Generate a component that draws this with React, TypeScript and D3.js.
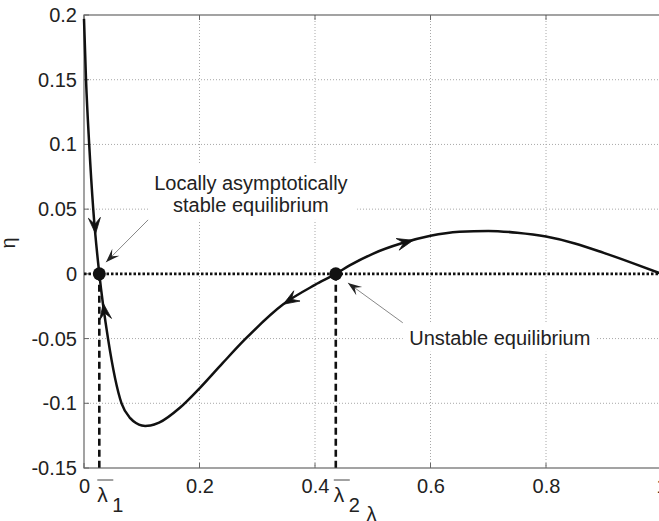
import React from "react";
import * as d3 from "d3";

// Curve data (λ, η)
const lambda = [0, 0.0035, 0.009, 0.016, 0.0265, 0.0416, 0.065, 0.08, 0.09, 0.1, 0.106, 0.115, 0.13, 0.166, 0.2, 0.24, 0.279, 0.345, 0.4, 0.436, 0.46, 0.5, 0.55, 0.6, 0.65, 0.7, 0.75, 0.8, 0.85, 0.9, 0.95, 1.0];
const eta = [0.197, 0.15, 0.1, 0.05, 0, -0.05, -0.1, -0.1115, -0.1152, -0.1172, -0.1175, -0.1172, -0.115, -0.1035, -0.0885, -0.069, -0.0505, -0.0235, -0.0085, 0, 0.0065, 0.0155, 0.0236, 0.0294, 0.0325, 0.0332, 0.0318, 0.0288, 0.0235, 0.0162, 0.0083, 0];

const xTicks = [0, 0.2, 0.4, 0.6, 0.8, 1];
const xTickLabels = ["0", "0.2", "0.4", "0.6", "0.8", "1"];
const yTicks = [-0.15, -0.1, -0.05, 0, 0.05, 0.1, 0.15, 0.2];
const yTickLabels = ["-0.15", "-0.1", "-0.05", "0", "0.05", "0.1", "0.15", "0.2"];

const equilibria = [0.0265, 0.436];
const equilibriumLabels = ["1", "2"];

const curveArrowAt = [0.02, 0.0334, 0.345, 0.57];
const curveArrowDir = [1, -1, -1, 1];

// annotation text boxes (data units)
const annoLines = [["Locally asymptotically", "stable equilibrium"], ["Unstable equilibrium"]];
const annoCenterX = [0.289, 0.72];
const annoBaselines = [[0.0649, 0.0479], [-0.0548]];
const annoBoxX = [[0.111, 0.473], [0.552, 0.888]];
const annoBoxY = [[0.0842, 0.0417], [-0.0378, -0.0602]];
const annoFrom = [[0.111, 0.0417], [0.552, -0.0378]];
const annoTo = [[0.038, 0.009], [0.457, -0.007]];

const W = 659;
const H = 521;
const FONT = "'Liberation Sans', Arial, sans-serif";

function interp(l: number): number {
  for (let i = 0; i < lambda.length - 1; i++) {
    if (l >= lambda[i] && l <= lambda[i + 1]) {
      const t = (l - lambda[i]) / (lambda[i + 1] - lambda[i]);
      return eta[i] + t * (eta[i + 1] - eta[i]);
    }
  }
  return 0;
}

function arrowHead(tx: number, ty: number, dx: number, dy: number, L: number, Wd: number, notch: number) {
  const n = Math.hypot(dx, dy) || 1;
  const ux = dx / n, uy = dy / n;
  const px = -uy, py = ux;
  const bx = tx - ux * L, by = ty - uy * L;
  const p1 = [bx + px * Wd / 2, by + py * Wd / 2];
  const p2 = [bx - px * Wd / 2, by - py * Wd / 2];
  const nb = [tx - ux * L * notch, ty - uy * L * notch];
  return `M${tx},${ty}L${p1[0]},${p1[1]}L${nb[0]},${nb[1]}L${p2[0]},${p2[1]}Z`;
}

export default function App() {
  const x = d3.scaleLinear().domain([0, 1]).range([84, 661.5]);
  const y = d3.scaleLinear().domain([-0.15, 0.2]).range([468, 15]);
  const x0 = x(0), x1 = x(1), yTop = y(0.2), yBot = y(-0.15);

  const line = d3
    .line<number>()
    .x((_, i) => x(lambda[i]))
    .y((d) => y(d))
    .curve(d3.curveMonotoneX);

  const gridColor = "#a8a8a8";

  return (
    <svg width={W} height={H} style={{ position: "absolute", left: 0, top: 0, background: "#fff" }} fontFamily={FONT}>
      <rect x={0} y={0} width={W} height={H} fill="#fff" />
      {/* grid */}
      {xTicks.filter((t) => t > 0 && t < 1).map((t) => (
        <line key={"gx" + t} x1={x(t)} x2={x(t)} y1={yTop} y2={yBot} stroke={gridColor} strokeWidth={1} strokeDasharray="1,2" />
      ))}
      {yTicks.filter((t) => t !== 0 && t > -0.15 && t < 0.2).map((t) => (
        <line key={"gy" + t} x1={x0} x2={x1} y1={y(t)} y2={y(t)} stroke={gridColor} strokeWidth={1} strokeDasharray="1,2" />
      ))}
      {/* box */}
      <rect x={x0} y={yTop} width={x1 - x0} height={yBot - yTop} fill="none" stroke="#666" strokeWidth={1.2} />
      {/* ticks */}
      {xTicks.map((t) => (
        <g key={"tx" + t}>
          <line x1={x(t)} x2={x(t)} y1={yBot} y2={yBot - 5} stroke="#666" />
          <line x1={x(t)} x2={x(t)} y1={yTop} y2={yTop + 5} stroke="#666" />
        </g>
      ))}
      {yTicks.map((t) => (
        <line key={"ty" + t} x1={x0} x2={x0 + 5} y1={y(t)} y2={y(t)} stroke="#666" />
      ))}
      {/* tick labels */}
      {yTicks.map((t, i) => (
        <text key={"ly" + t} x={77} y={y(t) + 7} textAnchor="end" fontSize={20} fill="#222">
          {yTickLabels[i]}
        </text>
      ))}
      {xTicks.map((t, i) => (
        <text key={"lx" + t} x={x(t) + 0.5} y={493} textAnchor="middle" fontSize={20} fill="#222">
          {xTickLabels[i]}
        </text>
      ))}
      {/* zero line */}
      <line x1={x0} x2={x1} y1={y(0)} y2={y(0)} stroke="#111" strokeWidth={2.6} strokeDasharray="2.5,2" />
      {/* equilibrium vertical dashed lines */}
      {equilibria.map((e) => (
        <line key={"v" + e} x1={x(e)} x2={x(e)} y1={y(0)} y2={yBot + 2} stroke="#111" strokeWidth={2.6} strokeDasharray="7,4" />
      ))}
      {/* curve */}
      <path d={line(eta) || ""} fill="none" stroke="#111" strokeWidth={2.5} />
      {/* equilibrium dots */}
      {equilibria.map((e) => (
        <circle key={"c" + e} cx={x(e)} cy={y(0)} r={6.5} fill="#111" />
      ))}
      {/* curve arrows */}
      {curveArrowAt.map((a, i) => {
        const dir = curveArrowDir[i];
        const tx = x(a), ty = y(interp(a));
        const b = a - dir * 0.01;
        const bx = x(b), by = y(interp(b));
        return <path key={"ca" + i} d={arrowHead(tx, ty, tx - bx, ty - by, 16, 12, 0.6)} fill="#111" stroke="#111" strokeWidth={0.8} />;
      })}
      {/* equilibrium labels */}
      {equilibria.map((e, i) => (
        <g key={"el" + i} fill="#222">
          <line x1={x(e) - 2} x2={x(e) + 14} y1={480} y2={480} stroke="#444" strokeWidth={1} />
          <text x={x(e) - 2} y={502} fontSize={21}>λ</text>
          <text x={x(e) + 13} y={512} fontSize={20}>{equilibriumLabels[i]}</text>
        </g>
      ))}
      {/* axis labels */}
      <text x={371.5} y={521} textAnchor="middle" fontSize={20} fill="#222">λ</text>
      <text transform="translate(15,243) rotate(-90)" textAnchor="middle" fontSize={20} fill="#222">η</text>
      {/* annotations */}
      {annoLines.map((lines, k) => (
        <g key={"an" + k}>
          <rect
            x={x(annoBoxX[k][0])}
            y={y(annoBoxY[k][0])}
            width={x(annoBoxX[k][1]) - x(annoBoxX[k][0])}
            height={y(annoBoxY[k][1]) - y(annoBoxY[k][0])}
            fill="#fff"
          />
          {lines.map((s, j) => (
            <text key={j} x={x(annoCenterX[k])} y={y(annoBaselines[k][j])} textAnchor="middle" fontSize={20} fill="#222">
              {s}
            </text>
          ))}
          <line
            x1={x(annoFrom[k][0])}
            y1={y(annoFrom[k][1])}
            x2={x(annoTo[k][0])}
            y2={y(annoTo[k][1])}
            stroke="#888"
            strokeWidth={1}
          />
          <path
            d={arrowHead(
              x(annoTo[k][0]),
              y(annoTo[k][1]),
              x(annoTo[k][0]) - x(annoFrom[k][0]),
              y(annoTo[k][1]) - y(annoFrom[k][1]),
              14,
              10,
              0.6
            )}
            fill="#222"
          />
        </g>
      ))}
    </svg>
  );
}
